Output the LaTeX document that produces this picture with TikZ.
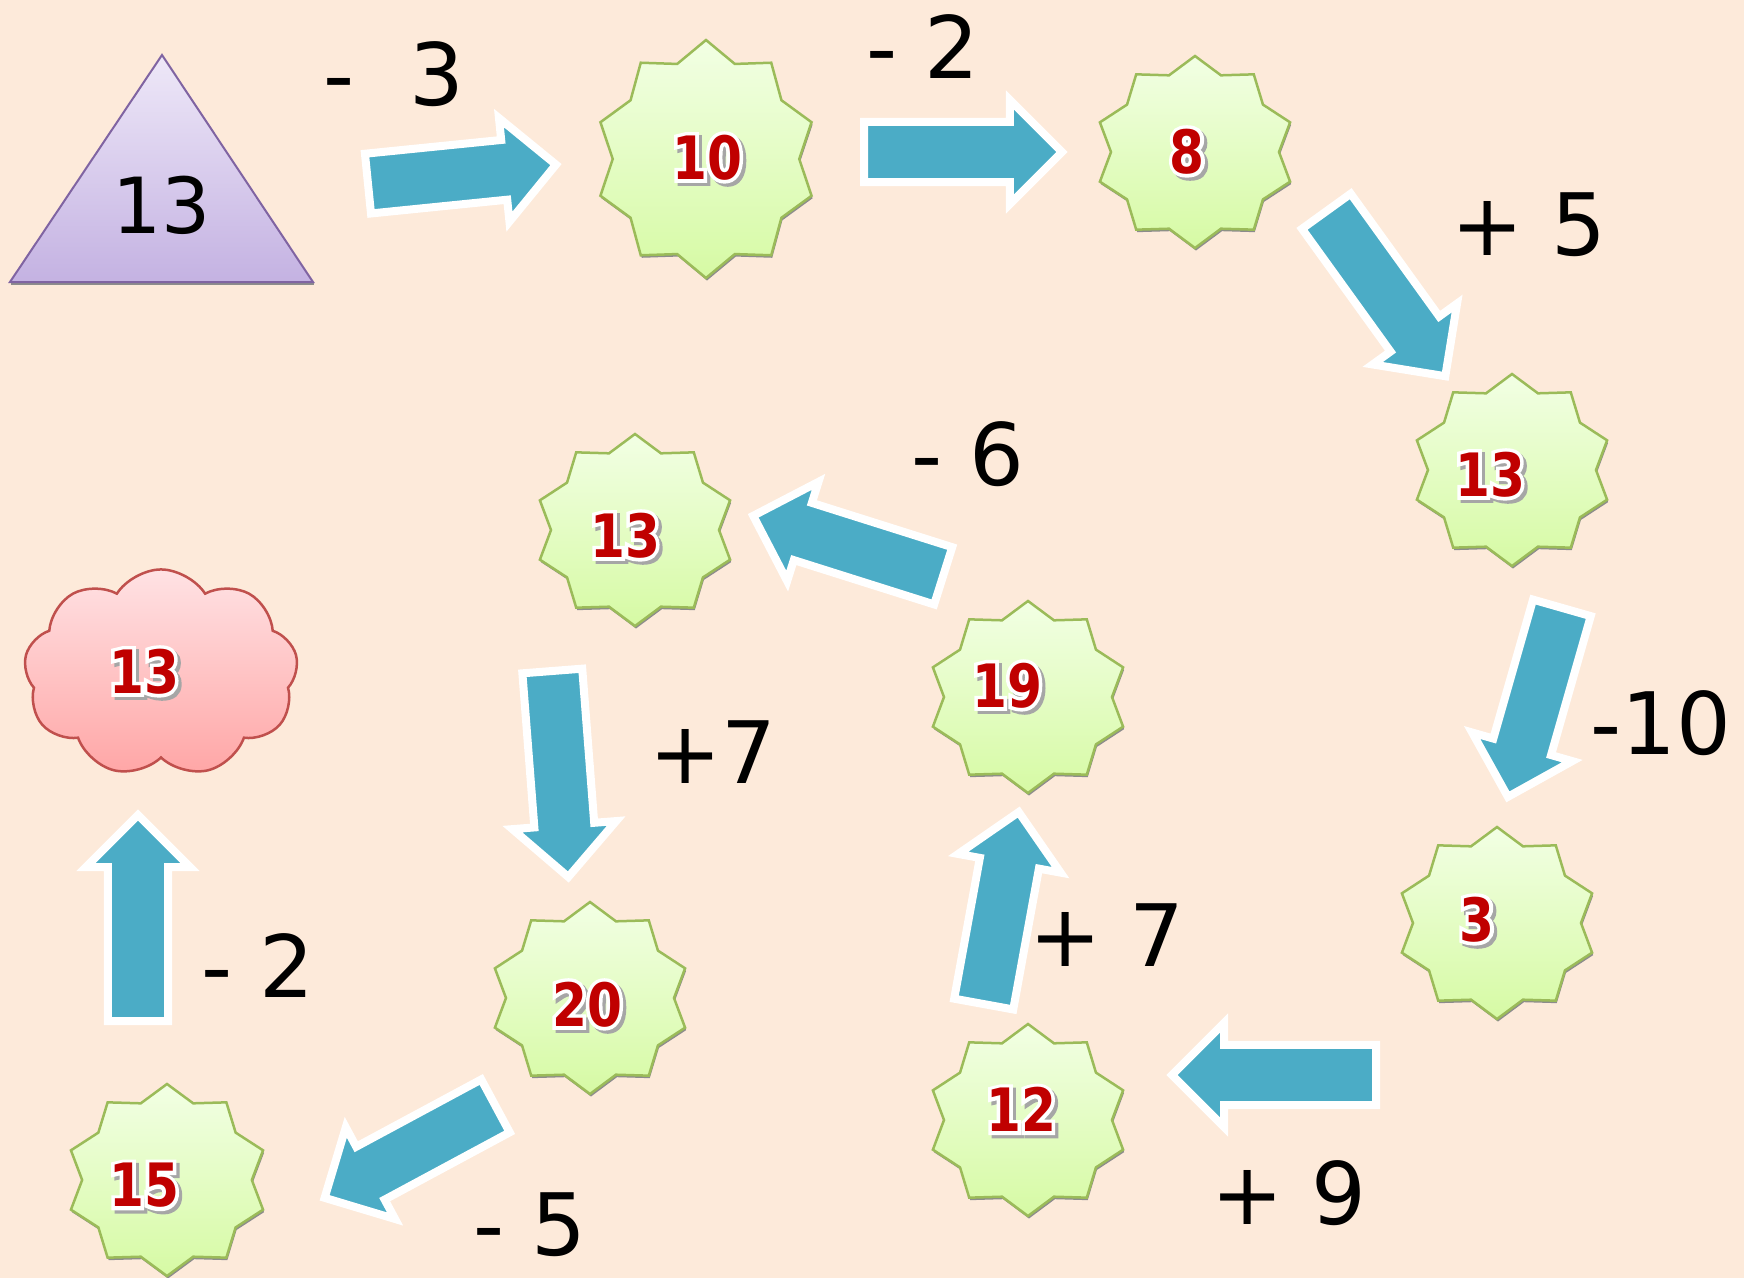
\documentclass[tikz,border=0pt]{standalone}
\usepackage{fontspec}
\setmainfont{DejaVu Sans}
\newfontfamily\numfont{DejaVu Sans}[FakeStretch=0.84]
\newfontfamily\numrim{DejaVu Sans}[FakeStretch=0.84,FakeBold=12]
\usetikzlibrary{shapes.arrows,shapes.symbols,calc}

\definecolor{pagebg}{RGB}{253,234,218}
\definecolor{arrowfill}{RGB}{75,172,198}
\definecolor{starline}{RGB}{155,187,89}
\definecolor{startop}{RGB}{242,255,228}
\definecolor{starbot}{RGB}{214,250,164}
\definecolor{numred}{RGB}{192,0,0}
\definecolor{triline}{RGB}{128,100,162}
\definecolor{tritop}{RGB}{238,232,248}
\definecolor{tribot}{RGB}{196,178,226}
\definecolor{cloudline}{RGB}{192,80,77}
\definecolor{cloudtop}{RGB}{255,226,228}
\definecolor{cloudbot}{RGB}{255,166,166}

% red number with a white rim and a grey shadow
\newcommand\outlined[1]{%
  \makebox[0pt][l]{\kern0.9pt\raisebox{-0.9pt}{\numrim\bfseries\textcolor{black!35}{#1}}}%
  \makebox[0pt][l]{\numrim\bfseries\textcolor{white}{#1}}%
  \textcolor{numred}{#1}}

% ten-point star: centre x, centre y, x radius, y radius
\newcommand\starshape[4]{%
  \fill[starshadow,shift={(#1+1,#2+2.5)}] (0,-#4)
    \foreach \i in {1,...,19}{ -- ({#3*(1-0.16*mod(\i,2))*sin(18*\i)},{-#4*(1-0.16*mod(\i,2))*cos(18*\i)}) } -- cycle;
  \shadedraw[starsty,shift={(#1,#2)}] (0,-#4)
    \foreach \i in {1,...,19}{ -- ({#3*(1-0.16*mod(\i,2))*sin(18*\i)},{-#4*(1-0.16*mod(\i,2))*cos(18*\i)}) } -- cycle;}

\tikzset{
  starsty/.style={draw=starline,line width=0.025cm,top color=startop,bottom color=starbot},
  starshadow/.style={black!45},
  tristy/.style={draw=triline,line width=0.02cm,top color=tritop,bottom color=tribot},
  cloudsty/.style={cloud,cloud puffs=9,cloud puff arc=115,aspect=1.35,draw=cloudline,
    line width=0.025cm,top color=cloudtop,bottom color=cloudbot,
    minimum width=2.74cm,minimum height=2.07cm,inner sep=0pt},
  num/.style={font=\numfont\bfseries\fontsize{17pt}{20pt}\selectfont,inner sep=0pt},
  bignum/.style={font=\fontsize{22pt}{26pt}\selectfont,inner sep=0pt},
  oplabel/.style={font=\fontsize{24.5pt}{29pt}\selectfont,inner sep=0pt},
  blockarrow/.style={single arrow,draw=white,fill=arrowfill,line width=0.08cm,
    inner xsep=0pt,inner ysep=0.26cm,single arrow head extend=0.22cm,anchor=tail}
}

\begin{document}
\begin{tikzpicture}[x=0.01cm,y=-0.01cm]
  \useasboundingbox (0,0) rectangle (1744,1278);
  \fill[pagebg] (0,0) rectangle (1744,1278);

  % start
  \coordinate (apex) at (162,55);
  \coordinate (baseL) at (10,282);
  \coordinate (baseR) at (313,282);
  \fill[starshadow] ($(baseL)+(1,1)$) rectangle ($(baseR)+(1,3)$);
  \shadedraw[tristy] (apex) -- (baseL) -- (baseR) -- cycle;
  \node[bignum] (start) at (162,205) {13};

  % stars
  \starshape{706}{159}{111}{119}
  \starshape{1195}{152}{100}{96}
  \starshape{1512}{470}{100}{96}
  \starshape{1497}{923}{100}{96}
  \starshape{1028}{1120}{100}{96}
  \starshape{1028}{697}{100}{96}
  \starshape{635}{530}{100}{96}
  \starshape{590}{998}{100}{96}
  \starshape{167}{1180}{101}{96}

  % goal
  \node[cloudsty] (goal) at (161,673) {};

  % numbers
  \node[num] (n1) at (707,159) {\outlined{10}};
  \node[num] (n2) at (1187,153) {\outlined{8}};
  \node[num] (n3) at (1490,476) {\outlined{13}};
  \node[num] (n4) at (1477,921) {\outlined{3}};
  \node[num] (n5) at (1021,1111) {\outlined{12}};
  \node[num] (n6) at (1007,687) {\outlined{19}};
  \node[num] (n7) at (625,537) {\outlined{13}};
  \node[num] (n8) at (587,1006) {\outlined{20}};
  \node[num] (n9) at (144,1187) {\outlined{15}};
  \node[num] (n10) at (144,673) {\outlined{13}};

  % steps
  \node[oplabel] (op1) at (394,74) {-~~3};
  \node[oplabel] (op2) at (923,47) {-~2};
  \node[oplabel] (op3) at (1529,225) {+~5};
  \node[oplabel] (op4) at (1661,723) {-10};
  \node[oplabel] (op5) at (1289,1193) {+~9};
  \node[oplabel] (op6) at (1107,935) {+~7};
  \node[oplabel] (op7) at (968,454) {-~6};
  \node[oplabel] (op8) at (713,752) {+7};
  \node[oplabel] (op9) at (530,1225) {-~5};
  \node[oplabel] (op10) at (258,966) {-~2};

  % arrows
  \coordinate (t1) at (364,184);   \coordinate (h1) at (552,165);
  \coordinate (t2) at (860,152);   \coordinate (h2) at (1058,152);
  \coordinate (t3) at (1324,208);  \coordinate (h3) at (1443,373);
  \coordinate (t4) at (1563,604);  \coordinate (h4) at (1509,793);
  \coordinate (t5) at (1380,1075); \coordinate (h5) at (1176,1075);
  \coordinate (t6) at (983,1008);  \coordinate (h6) at (1018,816);
  \coordinate (t7) at (947,577);   \coordinate (h7) at (757,517);
  \coordinate (t8) at (552,667);   \coordinate (h8) at (568,873);
  \coordinate (t9) at (499,1104);  \coordinate (h9) at (328,1196);
  \coordinate (t10) at (138,1025); \coordinate (h10) at (138,819);
  \path let \p1=($(h1)-(t1)$) in node[blockarrow,rotate={atan2(\y1,\x1)},minimum height={veclen(\x1,\y1)}] (a1) at (t1) {};
  \path let \p1=($(h2)-(t2)$) in node[blockarrow,rotate={atan2(\y1,\x1)},minimum height={veclen(\x1,\y1)}] (a2) at (t2) {};
  \path let \p1=($(h3)-(t3)$) in node[blockarrow,rotate={atan2(\y1,\x1)},minimum height={veclen(\x1,\y1)}] (a3) at (t3) {};
  \path let \p1=($(h4)-(t4)$) in node[blockarrow,rotate={atan2(\y1,\x1)},minimum height={veclen(\x1,\y1)}] (a4) at (t4) {};
  \path let \p1=($(h5)-(t5)$) in node[blockarrow,rotate={atan2(\y1,\x1)},minimum height={veclen(\x1,\y1)}] (a5) at (t5) {};
  \path let \p1=($(h6)-(t6)$) in node[blockarrow,rotate={atan2(\y1,\x1)},minimum height={veclen(\x1,\y1)}] (a6) at (t6) {};
  \path let \p1=($(h7)-(t7)$) in node[blockarrow,rotate={atan2(\y1,\x1)},minimum height={veclen(\x1,\y1)}] (a7) at (t7) {};
  \path let \p1=($(h8)-(t8)$) in node[blockarrow,rotate={atan2(\y1,\x1)},minimum height={veclen(\x1,\y1)}] (a8) at (t8) {};
  \path let \p1=($(h9)-(t9)$) in node[blockarrow,rotate={atan2(\y1,\x1)},minimum height={veclen(\x1,\y1)}] (a9) at (t9) {};
  \path let \p1=($(h10)-(t10)$) in node[blockarrow,rotate={atan2(\y1,\x1)},minimum height={veclen(\x1,\y1)}] (a10) at (t10) {};
\end{tikzpicture}
\end{document}
